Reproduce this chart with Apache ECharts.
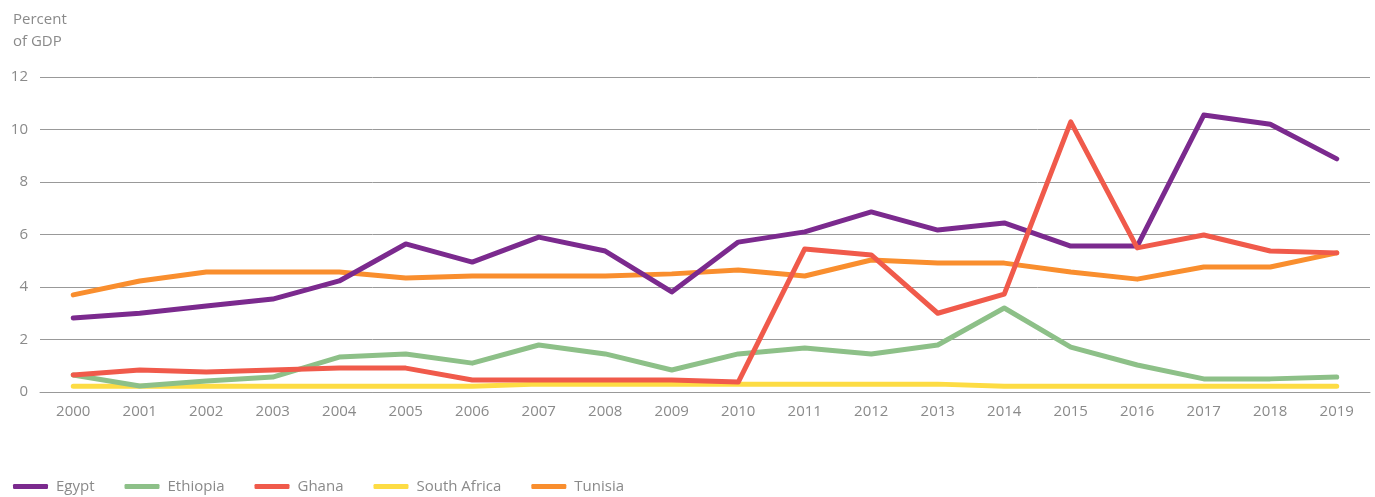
<!DOCTYPE html>
<html>
<head>
<meta charset="utf-8">
<script src="https://cdn.jsdelivr.net/npm/echarts@6/dist/echarts.min.js"></script>
<style>
  html, body { margin: 0; padding: 0; background: #fff; }
  #chart { width: 1375px; height: 497px; }
</style>
</head>
<body>
<div id="chart"></div>
<script>
// data
const years = ['2000', '2001', '2002', '2003', '2004', '2005', '2006', '2007', '2008', '2009',
               '2010', '2011', '2012', '2013', '2014', '2015', '2016', '2017', '2018', '2019'];
const egypt = [2.82, 3.0, 3.28, 3.54, 4.23, 5.64, 4.95, 5.9, 5.37, 3.81,
               5.71, 6.1, 6.86, 6.17, 6.44, 5.56, 5.56, 10.55, 10.2, 8.88];
const ethiopia = [0.65, 0.23, 0.42, 0.57, 1.33, 1.45, 1.1, 1.79, 1.45, 0.84,
                  1.45, 1.68, 1.45, 1.79, 3.2, 1.71, 1.03, 0.5, 0.5, 0.57];
const ghana = [0.65, 0.84, 0.76, 0.84, 0.91, 0.91, 0.46, 0.46, 0.46, 0.46,
               0.38, 5.45, 5.22, 3.0, 3.73, 10.29, 5.49, 5.98, 5.37, 5.3];
const southAfrica = [0.22, 0.22, 0.22, 0.22, 0.22, 0.22, 0.22, 0.3, 0.3, 0.3,
                     0.3, 0.3, 0.3, 0.3, 0.22, 0.22, 0.22, 0.22, 0.22, 0.22];
const tunisia = [3.7, 4.23, 4.57, 4.57, 4.57, 4.34, 4.42, 4.42, 4.42, 4.5,
                 4.65, 4.42, 5.03, 4.91, 4.91, 4.57, 4.3, 4.76, 4.76, 5.3];

const FONT = 'Open Sans';
const GREY = '#8a8a8a';

function lineSeries(name, data, color, z) {
    return {
        name: name,
        type: 'line',
        data: data,
        symbol: 'none',
        z: z,
        lineStyle: { width: 5, color: color, cap: 'round', join: 'round' },
        itemStyle: { color: color }
    };
}

function initChart() {
    const chart = echarts.init(document.getElementById('chart'));
    const option = {
        animation: false,
        textStyle: { fontFamily: FONT },
        title: {
            text: 'Percent\nof GDP',
            left: 8,
            top: 4,
            textStyle: { fontFamily: FONT, fontSize: 15, fontWeight: 'normal', color: GREY, lineHeight: 22 }
        },
        legend: {
            data: ['Egypt', 'Ethiopia', 'Ghana', 'South Africa', 'Tunisia'],
            left: 8,
            top: 474,
            icon: 'roundRect',
            itemWidth: 35,
            itemHeight: 5,
            itemGap: 30,
            textStyle: { fontFamily: FONT, fontSize: 15, color: GREY, padding: [0, 0, 0, 3] }
        },
        grid: { left: 40, right: 5, top: 77, bottom: 105 },
        xAxis: {
            type: 'category',
            data: years,
            boundaryGap: true,
            axisLine: { lineStyle: { color: '#999', width: 1 } },
            axisTick: { show: false },
            axisLabel: { color: GREY, fontSize: 15, margin: 12, fontFamily: FONT }
        },
        yAxis: {
            type: 'value',
            min: 0,
            max: 12,
            interval: 2,
            axisLine: { show: false },
            axisTick: { show: false },
            axisLabel: { color: GREY, fontSize: 15, margin: 12, fontFamily: FONT },
            splitLine: { lineStyle: { color: '#999', width: 1 } }
        },
        series: [
            lineSeries('South Africa', southAfrica, '#fddc44', 1),
            lineSeries('Ethiopia', ethiopia, '#8dc088', 2),
            lineSeries('Tunisia', tunisia, '#f98e2e', 3),
            lineSeries('Egypt', egypt, '#7b2a8e', 4),
            lineSeries('Ghana', ghana, '#f05a4b', 5)
        ]
    };
    chart.setOption(option);
}

document.addEventListener('DOMContentLoaded', initChart);
</script>
</body>
</html>
